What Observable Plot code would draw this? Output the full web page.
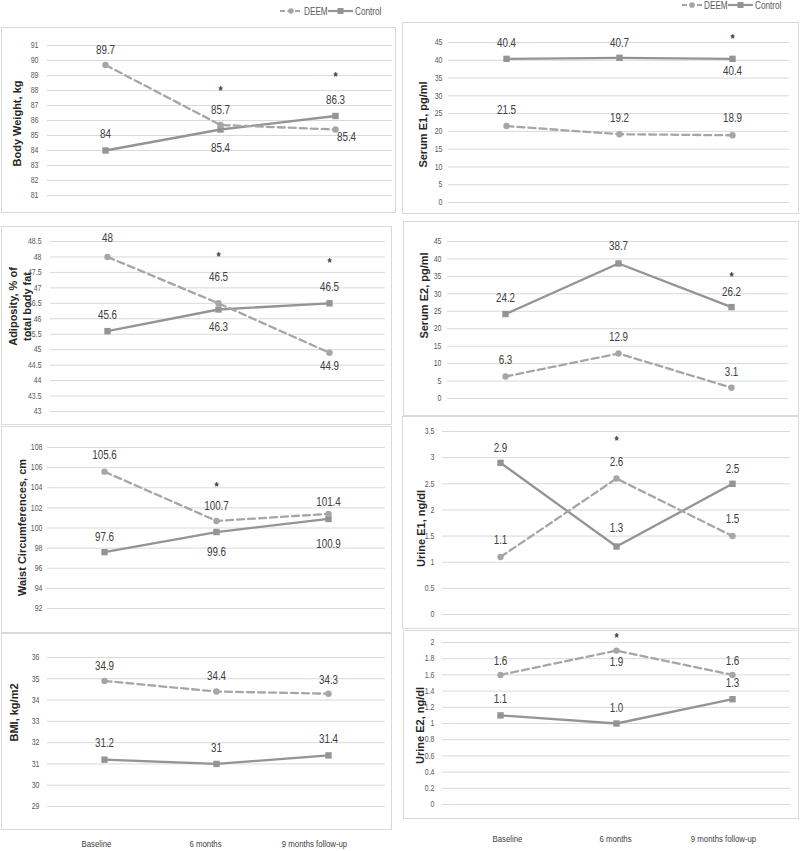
<!DOCTYPE html>
<html>
<head>
<meta charset="utf-8">
<script src="https://cdn.jsdelivr.net/npm/d3@7"></script>
<script src="https://cdn.jsdelivr.net/npm/@observablehq/plot@0.6"></script>
<style>
  body { margin: 0; background: #fff; }
  #root { position: relative; width: 800px; height: 851px; overflow: hidden; background: #fff;
          font-family: "Liberation Sans", Arial, sans-serif; }
  .panel { position: absolute; outline: 1px solid #d9d9d9; }
  .panel svg, .xrow svg, .legend svg { display: block; overflow: visible; }
  .xrow, .legend { position: absolute; }
</style>
</head>
<body>
<div id="root"></div>
<script>
// ---------------- DATA ----------------
const times = ["Baseline", "6 months", "9 months follow-up"];
const groups = ["DEEM", "Control"];

const bodyWeightDEEM = [89.7, 85.7, 85.4];
const bodyWeightControl = [84, 85.4, 86.3];
const adiposityDEEM = [48, 46.5, 44.9];
const adiposityControl = [45.6, 46.3, 46.5];
const waistDEEM = [105.6, 100.7, 101.4];
const waistControl = [97.6, 99.6, 100.9];
const bmiDEEM = [34.9, 34.4, 34.3];
const bmiControl = [31.2, 31, 31.4];

const serumE1DEEM = [21.5, 19.2, 18.9];
const serumE1Control = [40.4, 40.7, 40.4];
const serumE2DEEM = [6.3, 12.9, 3.1];
const serumE2Control = [24.2, 38.7, 26.2];
const urineE1DEEM = [1.1, 2.6, 1.5];
const urineE1Control = [2.9, 1.3, 2.5];
const urineE2DEEM = [1.6, 1.9, 1.6];
const urineE2Control = [1.1, 1.0, 1.3];

const bodyWeightTicks = [81, 82, 83, 84, 85, 86, 87, 88, 89, 90, 91];
const adiposityTicks = [43, 43.5, 44, 44.5, 45, 45.5, 46, 46.5, 47, 47.5, 48, 48.5];
const waistTicks = [92, 94, 96, 98, 100, 102, 104, 106, 108];
const bmiTicks = [29, 30, 31, 32, 33, 34, 35, 36];
const serumE1Ticks = [0, 5, 10, 15, 20, 25, 30, 35, 40, 45];
const serumE2Ticks = [0, 5, 10, 15, 20, 25, 30, 35, 40, 45];
const urineE1Ticks = [0, 0.5, 1, 1.5, 2, 2.5, 3, 3.5];
const urineE2Ticks = [0, 0.2, 0.4, 0.6, 0.8, 1, 1.2, 1.4, 1.6, 1.8, 2];

// significance markers (*): time point and height in data units
const bodyWeightSig = [{time: "6 months", y: 88.2}, {time: "9 months follow-up", y: 89.1}];
const adipositySig = [{time: "6 months", y: 48.1}, {time: "9 months follow-up", y: 47.9}];
const waistSig = [{time: "6 months", y: 104.4}];
const bmiSig = [];
const serumE1Sig = [{time: "9 months follow-up", y: 47.0}];
const serumE2Sig = [{time: "9 months follow-up", y: 35.8}];
const urineE1Sig = [{time: "6 months", y: 3.37}];
const urineE2Sig = [{time: "6 months", y: 2.1}];

// ---------------- STYLE / LAYOUT ----------------
const FONT = '"Liberation Sans",Arial,sans-serif';
const NARROW = 0.82; // emulate a narrow face
const DEEM_COLOR = "#a6a6a6";
const CONTROL_COLOR = "#949494";
const DASH = "7,4";

const panels = [
  {title: "Body Weight, kg", deem: bodyWeightDEEM, control: bodyWeightControl, ticks: bodyWeightTicks, sig: bodyWeightSig,
   box: {l: 2, t: 28, r: 395, b: 212}, grid: {x0: 47, x1: 392, yT: 45, yB: 195}, tp: {x: 16, y: 123}, pad: 9,
   deemDy: [-15, -15, 8], deemDx: [0, 0, 11], controlDy: [-16, 19, -16]},
  {title: "Adiposity, % of\ntotal body fat", deem: adiposityDEEM, control: adiposityControl, ticks: adiposityTicks, sig: adipositySig,
   box: {l: 2, t: 227, r: 391, b: 424}, grid: {x0: 50, x1: 385, yT: 241, yB: 411}, tp: {x: 19, y: 306}, pad: 9,
   deemDy: [-19, -26, 13], controlDy: [-16, 18, -16]},
  {title: "Waist Circumferences, cm", deem: waistDEEM, control: waistControl, ticks: waistTicks, sig: waistSig,
   box: {l: 2, t: 427, r: 391, b: 632}, grid: {x0: 47, x1: 385, yT: 447, yB: 608}, tp: {x: 21, y: 527}, pad: 5,
   deemDy: [-16, -15, -12], controlDy: [-15, 20, 25]},
  {title: "BMI, kg/m2", deem: bmiDEEM, control: bmiControl, ticks: bmiTicks, sig: bmiSig,
   box: {l: 2, t: 634, r: 391, b: 829}, grid: {x0: 47, x1: 385, yT: 657, yB: 806}, tp: {x: 13, y: 712}, pad: 8,
   deemDy: [-15, -15, -14], controlDy: [-17, -16, -16]},
  {title: "Serum E1, pg/ml", deem: serumE1DEEM, control: serumE1Control, ticks: serumE1Ticks, sig: serumE1Sig,
   box: {l: 403, t: 23, r: 798, b: 213}, grid: {x0: 448, x1: 789, yT: 42, yB: 202}, tp: {x: 422, y: 124}, pad: 6,
   deemDy: [-16, -16, -17], controlDy: [-16, -15, 12]},
  {title: "Serum E2, pg/ml", deem: serumE2DEEM, control: serumE2Control, ticks: serumE2Ticks, sig: serumE2Sig,
   box: {l: 404, t: 222, r: 798, b: 415}, grid: {x0: 447, x1: 788, yT: 241, yB: 398}, tp: {x: 423, y: 295}, pad: 6,
   deemDy: [-16, -16, -16], controlDy: [-16, -17, -15]},
  {title: "Urine E1, ng/dl", deem: urineE1DEEM, control: urineE1Control, ticks: urineE1Ticks, sig: urineE1Sig,
   box: {l: 403, t: 417, r: 798, b: 628}, grid: {x0: 442, x1: 790, yT: 431, yB: 614}, tp: {x: 420, y: 528}, pad: 8,
   deemDy: [-17, -16, -17], controlDy: [-15, -18, -15]},
  {title: "Urine E2, ng/dl", deem: urineE2DEEM, control: urineE2Control, ticks: urineE2Ticks, sig: urineE2Sig,
   box: {l: 404, t: 631, r: 798, b: 818}, grid: {x0: 442, x1: 790, yT: 642, yB: 804}, tp: {x: 419, y: 725}, pad: 8,
   deemDy: [-14, 12, -14], controlDy: [-16, -15, -16], fmt: d => d.toFixed(1)}
];

const root = document.getElementById("root");

// compress single-line texts horizontally (narrow-face look); text stays real text
function condense(svg, factor) {
  svg.querySelectorAll("text").forEach(t => {
    if (t.querySelector("tspan")) return;
    if (t.getAttribute("data-keep") || (t.closest("g") && t.closest("g").getAttribute("data-keep"))) return;
    const len = t.getComputedTextLength();
    if (len > 0) {
      t.setAttribute("textLength", (len * factor).toFixed(2));
      t.setAttribute("lengthAdjust", "spacingAndGlyphs");
    }
  });
}

function drawPanel(p) {
  const width = p.box.r - p.box.l, height = p.box.b - p.box.t;
  const ml = p.grid.x0 - p.box.l, mr = p.box.r - p.grid.x1;
  const mt = p.grid.yT - p.box.t, mb = p.box.b - p.grid.yB;
  const fmt = p.fmt || (d => String(d));
  const rows = (vals, group) => times.map((t, i) => ({time: t, value: vals[i], group, label: fmt(vals[i])}));
  const dRows = rows(p.deem, groups[0]), cRows = rows(p.control, groups[1]);
  const marks = [
    Plot.gridY({ticks: p.ticks, stroke: "#d9d9d9", strokeOpacity: 1, strokeWidth: 1}),
    Plot.axisY({ticks: p.ticks, tickSize: 0, tickPadding: p.pad, tickFormat: d => String(d), fontSize: 8.5, fill: "#595959", label: null}),
    Plot.line(cRows, {x: "time", y: "value", stroke: CONTROL_COLOR, strokeWidth: 2.3}),
    Plot.line(dRows, {x: "time", y: "value", stroke: DEEM_COLOR, strokeWidth: 2.3, strokeDasharray: DASH}),
    Plot.dot(cRows, {x: "time", y: "value", symbol: "square", r: 3.6, fill: CONTROL_COLOR, stroke: null}),
    Plot.dot(dRows, {x: "time", y: "value", symbol: "circle", r: 3.2, fill: DEEM_COLOR, stroke: null})
  ];
  dRows.forEach((r, i) => marks.push(Plot.text([r], {x: "time", y: "value", text: "label",
    dy: p.deemDy[i], dx: (p.deemDx || [0, 0, 0])[i], fontSize: 12, fill: "#404040"})));
  cRows.forEach((r, i) => marks.push(Plot.text([r], {x: "time", y: "value", text: "label",
    dy: p.controlDy[i], dx: (p.controlDx || [0, 0, 0])[i], fontSize: 12, fill: "#404040"})));
  marks.push(Plot.text(p.sig, {x: "time", y: "y", text: () => "*", fontSize: 13, fontWeight: "bold", fill: "#404040", dy: 3}));
  marks.push(Plot.text([p.title], {text: d => d, frameAnchor: "top-left",
    dx: p.tp.x - p.box.l - ml, dy: p.tp.y - p.box.t - mt, rotate: -90, textAnchor: "middle", lineAnchor: "middle",
    fontSize: 11, fontWeight: "bold", fill: "#262626", lineHeight: 1.25}));

  const chart = Plot.plot({
    width, height,
    marginLeft: ml, marginRight: mr, marginTop: mt, marginBottom: mb,
    style: {fontFamily: FONT, background: "transparent", overflow: "visible"},
    x: {type: "point", domain: times, padding: 0.5, axis: null},
    y: {domain: [p.ticks[0], p.ticks[p.ticks.length - 1]], nice: false},
    marks
  });
  // keep the bold axis title at its natural width
  chart.querySelectorAll("text").forEach(t => {
    if (t.textContent === p.title || t.getAttribute("transform")?.includes("rotate")) t.setAttribute("data-keep", "1");
  });
  const div = document.createElement("div");
  div.className = "panel";
  Object.assign(div.style, {left: p.box.l + "px", top: p.box.t + "px", width: width + "px", height: height + "px"});
  div.appendChild(chart);
  root.appendChild(div);
  condense(chart, NARROW);
}
panels.forEach(drawPanel);

// bottom category labels
function drawXRow(left, top, width, ml, mr) {
  const chart = Plot.plot({
    width, height: 20, marginLeft: ml, marginRight: mr, marginTop: 0, marginBottom: 0,
    style: {fontFamily: FONT, background: "transparent", overflow: "visible"},
    x: {type: "point", domain: times, padding: 0.5, axis: null},
    marks: [Plot.text(times, {x: d => d, text: d => d, frameAnchor: "middle", fontSize: 9.5, fill: "#404040"})]
  });
  const div = document.createElement("div");
  div.className = "xrow";
  Object.assign(div.style, {left: left + "px", top: top + "px", width: width + "px", height: "20px"});
  div.appendChild(chart);
  root.appendChild(div);
  condense(chart, NARROW);
}
drawXRow(0, 833, 400, 41.5, 31.5);
drawXRow(400, 828, 400, 53, 23);

// legends (swatch line + marker, label)
function drawLegend(left, centerY, w1, w2) {
  const ns = "http://www.w3.org/2000/svg";
  const svg = document.createElementNS(ns, "svg");
  svg.setAttribute("width", 120); svg.setAttribute("height", 14);
  svg.setAttribute("font-family", FONT); svg.setAttribute("font-size", 10);
  const items = [
    {name: groups[0], color: DEEM_COLOR, dash: "5,2.5", sym: "circle", w: w1},
    {name: groups[1], color: CONTROL_COLOR, dash: null, sym: "square", w: w2}
  ];
  let x = 0;
  items.forEach(it => {
    const line = document.createElementNS(ns, "line");
    line.setAttribute("x1", x); line.setAttribute("x2", x + it.w); line.setAttribute("y1", 7); line.setAttribute("y2", 7);
    line.setAttribute("stroke", it.color); line.setAttribute("stroke-width", 2.2);
    if (it.dash) line.setAttribute("stroke-dasharray", it.dash);
    svg.appendChild(line);
    let m;
    if (it.sym === "circle") {
      m = document.createElementNS(ns, "circle");
      m.setAttribute("cx", x + it.w / 2); m.setAttribute("cy", 7); m.setAttribute("r", 2.8);
    } else {
      m = document.createElementNS(ns, "rect");
      m.setAttribute("x", x + it.w / 2 - 3); m.setAttribute("y", 4); m.setAttribute("width", 6); m.setAttribute("height", 6);
    }
    m.setAttribute("fill", it.color);
    svg.appendChild(m);
    const t = document.createElementNS(ns, "text");
    t.setAttribute("x", x + it.w + 2); t.setAttribute("y", 10.5); t.setAttribute("fill", "#595959");
    t.textContent = it.name;
    svg.appendChild(t);
    x += it.w + 2 + (it.name === groups[0] ? 24 : 30);
  });
  const div = document.createElement("div");
  div.className = "legend";
  Object.assign(div.style, {left: left + "px", top: (centerY - 7) + "px"});
  div.appendChild(svg);
  root.appendChild(div);
  condense(svg, NARROW);
}
drawLegend(280, 11, 22, 25);
drawLegend(682, 5, 20, 25);
</script>
</body>
</html>
